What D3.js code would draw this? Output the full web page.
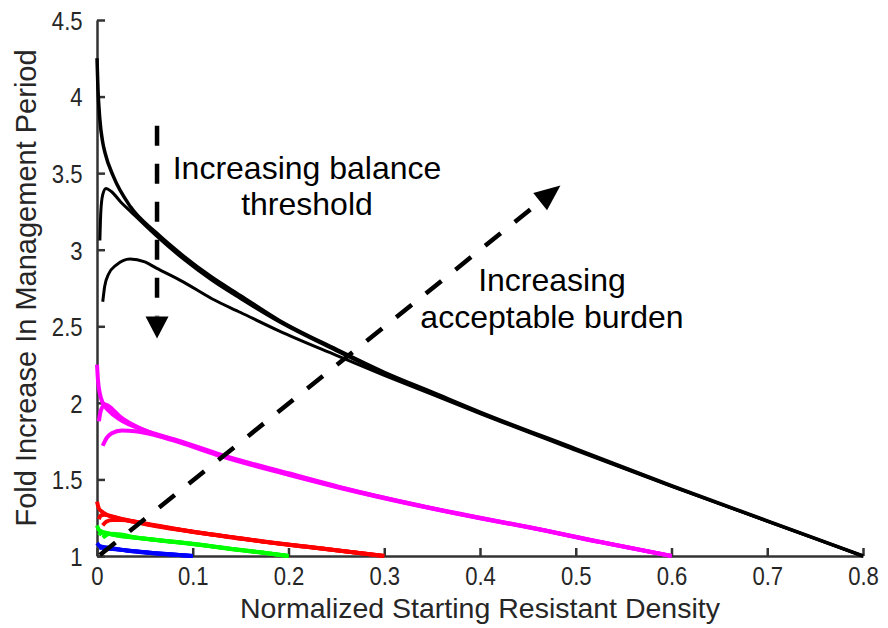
<!DOCTYPE html>
<html>
<head>
<meta charset="utf-8">
<script src="https://cdn.jsdelivr.net/npm/d3@7"></script>
<style>
  body { margin: 0; background: #fff; }
  svg { display: block; }
  text { font-family: "Liberation Sans", Arial, Helvetica, sans-serif; }
</style>
</head>
<body>
<div id="chart"></div>
<script>
// tick values
const xTicks = [0, 0.1, 0.2, 0.3, 0.4, 0.5, 0.6, 0.7, 0.8];
const yTicks = [1, 1.5, 2, 2.5, 3, 3.5, 4, 4.5];

// curves: [density, fold increase]
// black (largest acceptable burden)
const blackLow = [[0, 4.25], [0.001, 4.05], [0.003, 3.85], [0.006, 3.70], [0.0085, 3.63], [0.017, 3.48],
  [0.035, 3.28], [0.062, 3.11], [0.09, 2.96], [0.12, 2.82], [0.15, 2.70], [0.19, 2.54], [0.25, 2.35],
  [0.3, 2.20], [0.35, 2.07], [0.4, 1.94], [0.5, 1.70], [0.6, 1.46], [0.7, 1.23], [0.8, 1.0]];
const blackMid = [[0.003, 3.06], [0.004, 3.25], [0.006, 3.36], [0.0094, 3.40], [0.015, 3.38], [0.025, 3.31],
  [0.035, 3.25], [0.05, 3.16], [0.062, 3.09], [0.09, 2.94], [0.12, 2.80], [0.15, 2.68], [0.19, 2.53],
  [0.25, 2.34], [0.3, 2.19], [0.35, 2.065], [0.4, 1.935], [0.5, 1.695], [0.6, 1.457], [0.7, 1.228], [0.8, 1.0]];
const blackHigh = [[0.006, 2.66], [0.008, 2.76], [0.012, 2.84], [0.02, 2.90], [0.0345, 2.94], [0.05, 2.92],
  [0.062, 2.88], [0.09, 2.79], [0.12, 2.68], [0.15, 2.59], [0.19, 2.47], [0.25, 2.31], [0.3, 2.18],
  [0.35, 2.055], [0.4, 1.93], [0.5, 1.69], [0.6, 1.455], [0.7, 1.227], [0.8, 1.0]];

// magenta
const magentaLow = [[0, 2.25], [0.001, 2.15], [0.003, 2.06], [0.006, 2.0], [0.012, 1.95], [0.024, 1.89],
  [0.05, 1.82], [0.087, 1.75], [0.13, 1.66], [0.2, 1.54], [0.254, 1.45], [0.337, 1.33], [0.4, 1.25],
  [0.45, 1.19], [0.525, 1.093], [0.6, 1.0]];
const magentaMid = [[0.002, 1.88], [0.004, 1.95], [0.0084, 1.99], [0.012, 1.98], [0.024, 1.91], [0.05, 1.82],
  [0.087, 1.745], [0.13, 1.655], [0.2, 1.535], [0.254, 1.447], [0.337, 1.328], [0.4, 1.248],
  [0.45, 1.189], [0.525, 1.092], [0.6, 1.0]];
const magentaHigh = [[0.006, 1.72], [0.01, 1.77], [0.015, 1.80], [0.026, 1.82], [0.04, 1.815], [0.06, 1.79],
  [0.087, 1.74], [0.13, 1.65], [0.2, 1.53], [0.254, 1.444], [0.337, 1.326], [0.4, 1.246],
  [0.45, 1.188], [0.525, 1.091], [0.6, 1.0]];

// red
const redLow = [[0, 1.355], [0.002, 1.31], [0.005, 1.29], [0.01, 1.27], [0.02, 1.25], [0.035, 1.23],
  [0.052, 1.21], [0.08, 1.18], [0.11, 1.15], [0.139, 1.125], [0.18, 1.09], [0.22, 1.06], [0.254, 1.035], [0.3, 1.0]];
const redMid = [[0.002, 1.24], [0.004, 1.265], [0.008, 1.27], [0.015, 1.26], [0.03, 1.235], [0.052, 1.208],
  [0.08, 1.178], [0.11, 1.149], [0.139, 1.124], [0.18, 1.089], [0.22, 1.06], [0.254, 1.035], [0.3, 1.0]];
const redHigh = [[0.006, 1.20], [0.01, 1.225], [0.016, 1.235], [0.025, 1.235], [0.04, 1.222], [0.052, 1.206],
  [0.08, 1.176], [0.11, 1.148], [0.139, 1.123], [0.18, 1.088], [0.22, 1.059], [0.254, 1.034], [0.3, 1.0]];

// green
const greenLow = [[0, 1.2], [0.002, 1.17], [0.005, 1.16], [0.01, 1.15], [0.02, 1.135], [0.04, 1.12],
  [0.07, 1.10], [0.1, 1.08], [0.139, 1.048], [0.17, 1.025], [0.2, 1.0]];
const greenMid = [[0.002, 1.135], [0.004, 1.15], [0.008, 1.152], [0.015, 1.142], [0.03, 1.126], [0.05, 1.113],
  [0.07, 1.099], [0.1, 1.079], [0.139, 1.047], [0.17, 1.024], [0.2, 1.0]];
const greenHigh = [[0.006, 1.12], [0.01, 1.138], [0.014, 1.145], [0.025, 1.14], [0.04, 1.122], [0.07, 1.098],
  [0.1, 1.078], [0.139, 1.046], [0.17, 1.024], [0.2, 1.0]];

// blue
const blueLow = [[0, 1.085], [0.003, 1.065], [0.01, 1.055], [0.027, 1.04], [0.05, 1.025], [0.075, 1.012], [0.1, 1.0]];
const blueMid = [[0.002, 1.05], [0.005, 1.056], [0.012, 1.052], [0.027, 1.039], [0.05, 1.024], [0.075, 1.011], [0.1, 1.0]];
const blueHigh = [[0.005, 1.04], [0.009, 1.047], [0.016, 1.046], [0.03, 1.036], [0.05, 1.023], [0.075, 1.011], [0.1, 1.0]];

const curves = [
  {pts: blueLow, color: "#0000ff", w: 4}, {pts: blueMid, color: "#0000ff", w: 4}, {pts: blueHigh, color: "#0000ff", w: 4},
  {pts: greenLow, color: "#00ff00", w: 4}, {pts: greenMid, color: "#00ff00", w: 4}, {pts: greenHigh, color: "#00ff00", w: 4},
  {pts: redLow, color: "#ff0000", w: 4}, {pts: redMid, color: "#ff0000", w: 4}, {pts: redHigh, color: "#ff0000", w: 4},
  {pts: magentaLow, color: "#ff00ff", w: 4}, {pts: magentaMid, color: "#ff00ff", w: 4}, {pts: magentaHigh, color: "#ff00ff", w: 4},
  {pts: blackLow, color: "#000000", w: 3.5}, {pts: blackMid, color: "#000000", w: 3}, {pts: blackHigh, color: "#000000", w: 3}
];

// annotation anchors in data units
const arrowDown = {x: 0.0627, y0: 3.81, y1: 2.42};
const arrowDiag = {x0: 0.003, y0: 1.006, x1: 0.484, y1: 3.42};
const labelBalance = ["Increasing balance", "threshold"];
const labelBurden = ["Increasing", "acceptable burden"];

const width = 888, height = 628;
const margin = {top: 20, right: 25, bottom: 72, left: 97};

const svg = d3.select("#chart").append("svg")
  .attr("width", width)
  .attr("height", height);

const x = d3.scaleLinear().domain([0, 0.8]).range([margin.left, width - margin.right]);
const y = d3.scaleLinear().domain([1, 4.5]).range([height - margin.bottom, margin.top]);

const axisColor = "#333333";

// axes with inward ticks
const xAxis = svg.append("g")
  .attr("transform", `translate(0,${y(1)})`)
  .call(d3.axisBottom(x).tickValues(xTicks).tickSize(-8).tickSizeOuter(0).tickPadding(8).tickFormat(d => String(d)));
const yAxis = svg.append("g")
  .attr("transform", `translate(${x(0)},0)`)
  .call(d3.axisLeft(y).tickValues(yTicks).tickSize(-8).tickSizeOuter(0).tickPadding(17).tickFormat(d => String(d)));

[xAxis, yAxis].forEach(g => {
  g.select(".domain").attr("stroke", axisColor).attr("stroke-width", 2.5);
  g.selectAll(".tick line").attr("stroke", axisColor).attr("stroke-width", 2.5);
  g.selectAll(".tick text").attr("fill", "#262626").style("font-size", "26px")
    .style("font-family", "'Liberation Sans', Arial, sans-serif")
    .attr("transform", "scale(0.85,1)");
});
xAxis.selectAll(".tick text").attr("dy", "0.82em");
yAxis.selectAll(".tick text").attr("dy", "0.36em");

// axis titles
svg.append("text")
  .attr("x", (x(0) + x(0.8)) / 2)
  .attr("y", 618)
  .attr("text-anchor", "middle")
  .attr("fill", "#262626")
  .style("font-size", "28.5px")
  .text("Normalized Starting Resistant Density");

svg.append("text")
  .attr("transform", `translate(36,${(y(1) + y(4.5)) / 2}) rotate(-90)`)
  .attr("text-anchor", "middle")
  .attr("fill", "#262626")
  .style("font-size", "29px")
  .text("Fold Increase In Management Period");

// curves
const line = d3.line()
  .x(d => x(d[0]))
  .y(d => y(d[1]))
  .curve(d3.curveMonotoneX);

svg.append("g").selectAll("path")
  .data(curves)
  .enter().append("path")
  .attr("fill", "none")
  .attr("stroke", d => d.color)
  .attr("stroke-width", d => d.w)
  .attr("stroke-linejoin", "round")
  .attr("d", d => line(d.pts));

// dashed arrows
function dashedArrow(x0, y0, x1, y1, headLen, headW) {
  const dx = x1 - x0, dy = y1 - y0;
  const len = Math.sqrt(dx * dx + dy * dy);
  const ux = dx / len, uy = dy / len;
  const bx = x1 - ux * headLen, by = y1 - uy * headLen;
  svg.append("line")
    .attr("x1", x0).attr("y1", y0)
    .attr("x2", bx).attr("y2", by)
    .attr("stroke", "#000")
    .attr("stroke-width", 4.5)
    .attr("stroke-dasharray", "20,18");
  const px = -uy, py = ux;
  svg.append("path")
    .attr("d", `M${x1},${y1}L${bx + px * headW / 2},${by + py * headW / 2}L${bx - px * headW / 2},${by - py * headW / 2}Z`)
    .attr("fill", "#000");
}

dashedArrow(x(arrowDown.x), y(arrowDown.y0), x(arrowDown.x), y(arrowDown.y1), 22, 23);
dashedArrow(x(arrowDiag.x0), y(arrowDiag.y0), x(arrowDiag.x1), y(arrowDiag.y1), 26, 22);

// annotation text
function multiLabel(lines, cx, baseline, step) {
  const t = svg.append("text")
    .attr("text-anchor", "middle")
    .attr("fill", "#000")
    .style("font-size", "32px");
  lines.forEach((s, i) => {
    t.append("tspan").attr("x", cx).attr("y", baseline + i * step).text(s);
  });
}

multiLabel(labelBalance, 307, 179, 36);
multiLabel(labelBurden, 552, 291, 37);
</script>
</body>
</html>
